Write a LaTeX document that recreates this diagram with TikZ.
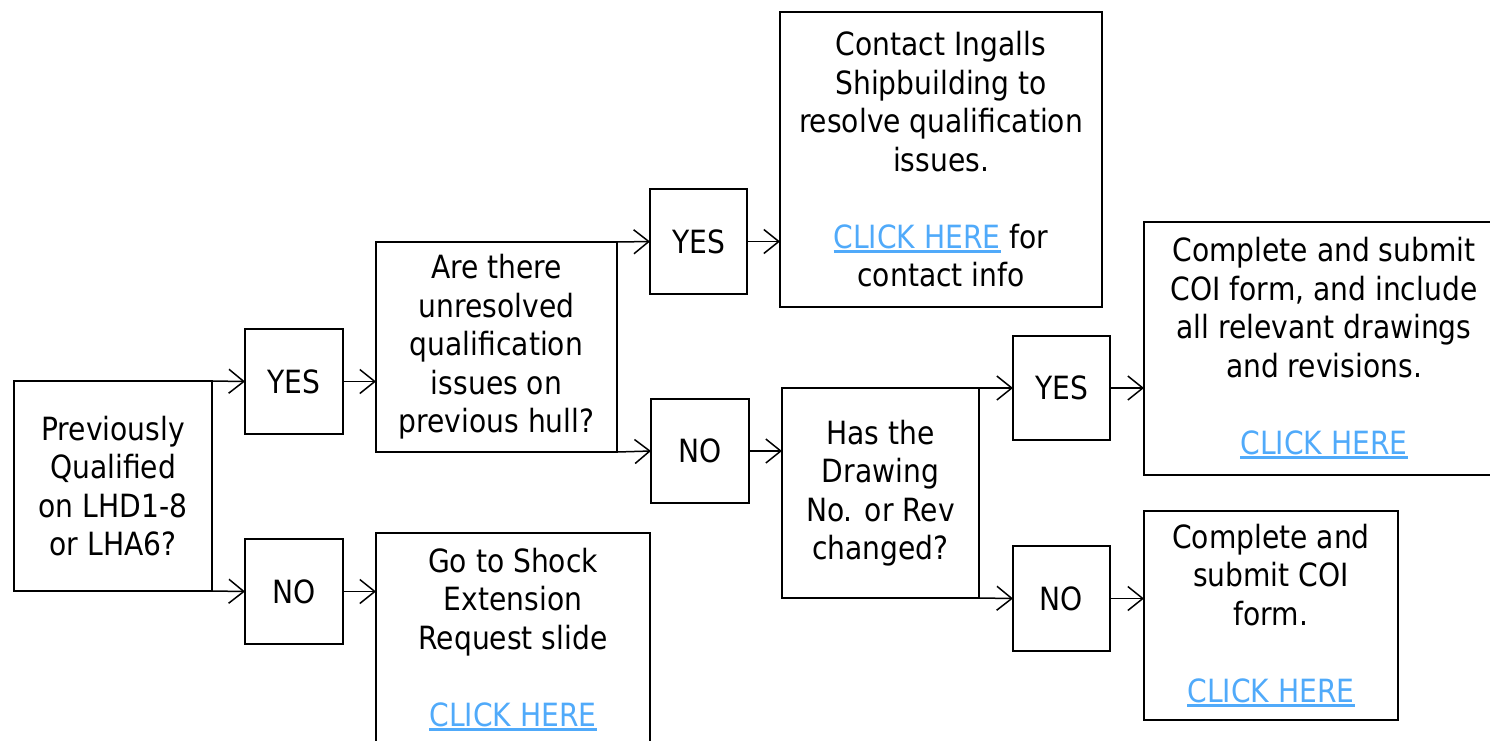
\documentclass[tikz,border=0pt]{standalone}
\usepackage{fontspec}
\setmainfont{DejaVu Sans}[FakeStretch=0.88]
\usepackage{tikz}
\usetikzlibrary{arrows.meta}
\definecolor{linkblue}{RGB}{80,170,250}
\newcommand\clickhere[1]{\textcolor{linkblue}{\setbox0\hbox{#1}\rlap{\rule[-5pt]{\wd0}{3pt}}\box0}}

\begin{document}
\begin{tikzpicture}[%
      x=1pt, y=-1pt,
      box/.style={draw, line width=1.5pt, inner sep=0pt, outer sep=0pt,
        align=center, font=\fontsize{32}{38.5}\selectfont},
      flow/.style={line width=1.5pt, -{Straight Barb[length=15pt,width=24pt]}},
      ]
      \useasboundingbox (0,0) rectangle (1490,740);

      % first question
      \node [box, minimum width=198pt, minimum height=210pt] (qual) at (113,486)
        {Previously\\Qualified\\on LHD1-8\\or LHA6?};
      \node [box, minimum width=98pt, minimum height=105pt] (yes1) at (294,381.5) {YES};
      \node [box, minimum width=98pt, minimum height=105pt] (no1) at (294,591.5) {NO};

      % second level
      \node [box, minimum width=241pt, minimum height=210pt] (issues) at (496.5,347)
        {Are there\\unresolved\\qualification\\issues on\\previous hull?};
      \node [box, minimum width=274pt, minimum height=213pt] (shock) at (513,639.5)
        {Go to Shock\\Extension\\Request slide\\[38.5pt]\clickhere{CLICK HERE}};
      \node [box, minimum width=97pt, minimum height=105pt] (yes2) at (698.5,241.5) {YES};
      \node [box, minimum width=98pt, minimum height=104pt] (no2) at (700,451) {NO};

      % third level
      \node [box, minimum width=322pt, minimum height=295pt] (contact) at (941,159.5)
        {Contact Ingalls\\Shipbuilding to\\resolve qualification\\issues.\\[38.5pt]\clickhere{CLICK HERE} for\\contact info};
      \node [box, minimum width=197pt, minimum height=210pt] (drawing) at (880.5,493)
        {Has the\\Drawing\\No. or Rev\\changed?};
      \node [box, minimum width=97pt, minimum height=104pt] (yes3) at (1061.5,388) {YES};
      \node [box, minimum width=97pt, minimum height=105pt] (no3) at (1061.5,598.5) {NO};

      % forms
      \node [box, minimum width=360pt, minimum height=253pt] (coirev) at (1324,348.5)
        {Complete and submit\\COI form, and include\\all relevant drawings\\and revisions.\\[38.5pt]\clickhere{CLICK HERE}};
      \node [box, minimum width=254pt, minimum height=209pt] (coi) at (1271,615.5)
        {Complete and\\submit COI\\form.\\[38.5pt]\clickhere{CLICK HERE}};

      \draw [flow] (qual.north east) -- (yes1.west);
      \draw [flow] (qual.south east) -- (no1.west);
      \draw [flow] (yes1.east) -- (yes1.east -| issues.west);
      \draw [flow] (no1.east) -- (no1.east -| shock.west);

      \draw [flow] (issues.north east) -- (yes2.west);
      \draw [flow] (issues.south east) -- (no2.west);
      \draw [flow] (yes2.east) -- (yes2.east -| contact.west);
      \draw [flow] (no2.east) -- (no2.east -| drawing.west);

      \draw [flow] (drawing.north east) -- (yes3.west);
      \draw [flow] (drawing.south east) -- (no3.west);
      \draw [flow] (yes3.east) -- (yes3.east -| coirev.west);
      \draw [flow] (no3.east) -- (no3.east -| coi.west);
      \end{tikzpicture}
\end{document}
